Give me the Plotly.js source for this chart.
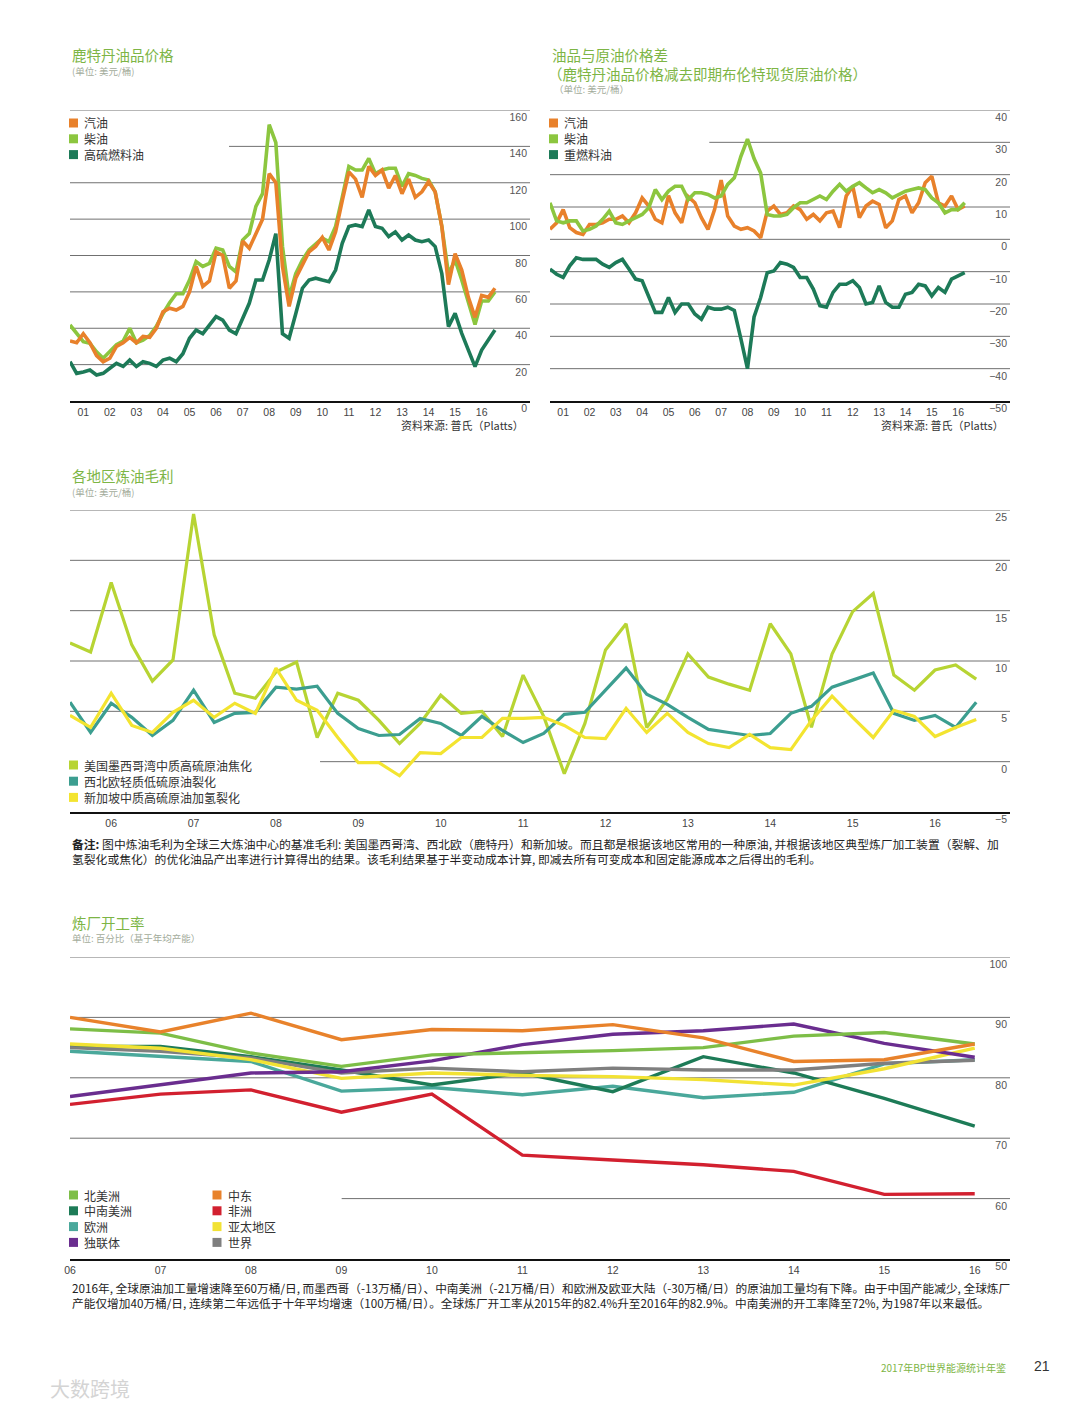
<!DOCTYPE html>
<html><head><meta charset="utf-8">
<script src="https://cdn.plot.ly/plotly-3.0.1.min.js"></script>
<style>html,body{margin:0;padding:0;background:#fff}#chart{width:1080px;height:1407px}</style>
</head><body><div id="chart"></div>
<script>
// ---------- Data ----------
// Chart A: Rotterdam product prices, quarterly from 2001
const yearLabelsA = ["01","02","03","04","05","06","07","08","09","10","11","12","13","14","15","16"];
const seriesNamesA = ["汽油","柴油","高硫燃料油"];
const gasolineA = [33,32,37,32,25,21.6,23.5,30,32,35,32,35.5,35,40,49,51,50,52,60,74,63,66,82,80,62,66,88,84,92,100,125,120,74,52,67.5,75,82,85,90,83,93,110,126,122,112,129,124,127,117,124,114,122,112,115,120.6,115,96,64,81,72,57,46,58,57,62];
const dieselA = [41.8,37,32.6,31.7,27,23.5,27,31,33,40,32,33.5,36,41,48,54,59,59,66.5,76.6,74,75.7,84,83,74,71,88.5,92,107,114,152,142,85,57,70,77.5,83,86,89.5,87.6,96,112,129,127,127,133.4,125,127,128,128,118,125,124,122.4,121.5,115,96,70,77.5,66.5,54,42,55,55,60];
const hsfoA = [21.6,15.2,16,17,14.3,15.2,18,20.7,19,22.5,19,21.6,20.7,19,22.5,23.5,21.6,26,34.5,39,37,41.8,46.4,44.5,39,37,45.5,53.7,66.5,66.5,77.5,92,37,34.5,48,62,66.5,67.5,66.5,65.6,72,86.7,95.9,96.8,95.9,105,96,95,90.4,93,88.5,91.3,88.5,87.6,88.5,84.9,70,40.9,48.2,37.2,28,18.9,28,33.5,39];
const yTicksA = [0,20,40,60,80,100,120,140,160];

// Chart B: product - Brent spreads, quarterly from 2001
const seriesNamesB = ["汽油","柴油","重燃料油"];
const gasolineB = [3.1,5.1,9.2,3.6,2.1,1.5,4.6,4.6,5.1,6.2,6.2,7.2,5.1,8.2,12.8,10.3,6.2,5.1,13.5,8.2,5.1,13.2,11.3,6.7,3.1,9.2,18.3,7.2,4.1,3.1,3.6,2.6,0.5,8.7,10.3,7.7,8.2,10.3,9.2,6.2,7.7,5.7,8.2,8.7,3.6,13.4,16.4,6.7,10.3,11.8,10.8,3.6,5.7,12.3,13.4,8.2,11.3,17.5,19.5,11.3,10.3,13.4,9.2,10.3];
const dieselB = [11.3,5.7,5.1,5.7,5.7,2.6,3.1,4.1,6.2,8.7,5.1,4.6,5.7,6.7,7.7,9.8,15.4,12.3,14.9,16.4,16.4,12.3,14.4,14.4,13.9,12.8,13.4,17,19,25.7,31,25,20.5,7.7,7.2,7.2,7.7,9.8,11.3,11.3,12.3,13.4,12.3,14.9,17,14.9,16.4,17.5,15.9,14.4,15.4,14.4,12.8,13.9,14.9,15.4,15.9,15.4,12.8,11.3,8.2,9.2,9.2,11.3];
const hsfoB = [-9.2,-10.8,-11.8,-8.2,-5.7,-6.2,-6.2,-6.2,-7.7,-8.7,-7.2,-6.2,-9.2,-12.3,-12.8,-18,-22.6,-22.6,-18,-22.6,-20,-20,-23.1,-24.7,-21,-21.6,-21.6,-21,-22,-30.8,-40,-24,-18,-10.3,-9.8,-7.2,-7.7,-8.7,-11.8,-11.8,-15.4,-20.5,-21,-16.4,-13.9,-13.9,-12.8,-14.9,-20,-19.5,-14.4,-19.5,-21,-21,-17,-16.4,-13.9,-14.4,-17.5,-14.9,-16.4,-12.3,-11.3,-10.3];
const yTicksB = [-50,-40,-30,-20,-10,0,10,20,30,40];

// Chart C: regional refining margins, quarterly from 2006
const yearLabelsC = ["06","07","08","09","10","11","12","13","14","15","16"];
const seriesNamesC = ["美国墨西哥湾中质高硫原油焦化","西北欧轻质低硫原油裂化","新加坡中质高硫原油加氢裂化"];
const usGulfC = [11.8,10.9,17.8,11.6,8.0,10.1,24.6,12.6,6.8,6.3,8.9,9.9,2.4,6.8,6.1,4.1,1.8,3.8,6.6,4.8,5.0,2.5,8.6,4.5,-1.2,3.8,11.1,13.7,3.4,6.2,10.7,8.4,7.7,7.1,13.7,10.7,3.4,10.7,14.9,16.7,8.6,7.1,9.1,9.6,8.2];
const nwEuropeC = [5.9,2.9,5.8,4.4,2.6,4.1,7.1,3.9,4.8,4.9,7.4,7.2,7.5,4.8,3.3,2.6,2.7,4.3,3.8,2.6,4.5,3.1,1.9,2.8,4.7,4.9,7.1,9.3,6.7,5.7,4.4,3.2,2.9,2.6,2.8,4.8,5.5,7.4,8.1,8.8,4.8,4.1,4.6,3.4,5.9];
const singaporeC = [4.6,3.4,6.8,3.6,2.9,4.9,6.1,4.4,5.8,4.8,9.3,6.1,5.1,2.4,-0.1,-0.1,-1.4,0.9,0.8,2.4,2.4,4.3,4.3,4.4,3.6,2.4,2.3,5.3,2.9,4.8,2.9,1.8,1.4,2.7,1.4,1.2,4.1,6.5,4.4,2.4,5.1,4.5,2.5,3.4,4.2];
const yTicksC = [-5,0,5,10,15,20,25];

// Chart D: refinery utilization, annual 2006-2016
const yearsD = [2006,2007,2008,2009,2010,2011,2012,2013,2014,2015,2016];
const yearLabelsD = ["06","07","08","09","10","11","12","13","14","15","16"];
const seriesNamesD = ["北美洲","中南美洲","欧洲","独联体","中东","非洲","亚太地区","世界"];
const northAmerica = [88.1,87.4,84.1,81.9,83.8,84.1,84.5,85.0,86.9,87.5,85.6];
const scAmerica = [85.2,85.2,83.5,81.3,78.8,80.8,77.7,83.5,80.8,76.6,72.0];
const europe = [84.4,83.5,82.7,77.8,78.4,77.2,78.6,76.7,77.6,82.3,83.0];
const cis = [76.9,78.8,80.8,81.0,82.8,85.5,87.2,87.8,88.9,85.7,83.4];
const middleEast = [90.0,87.6,90.7,86.3,88.0,87.8,88.8,86.6,82.7,83.0,85.6];
const africa = [75.6,77.3,78.0,74.3,77.3,67.2,66.4,65.6,64.5,60.7,60.8];
const asiaPacific = [85.6,84.9,83.0,79.9,80.8,80.4,80.2,79.7,78.8,81.5,84.9];
const world = [85.0,84.4,83.3,80.8,81.6,81.0,81.6,81.3,81.3,82.4,82.9];
const yTicksD = [50,60,70,80,90,100];

// ---------- Helpers ----------
const W = 1080, H = 1407;
const PX = x => x / W;
const PY = y => 1 - y / H;
const quarters = (startYear, n) => Array.from({length: n}, (_, i) => startYear + i * 0.25);
const FONT = "Liberation Sans, Arial, Noto Sans CJK SC, sans-serif";
const CJK = "Noto Sans CJK SC, sans-serif";

const C = {
  orange: "#E8812B", diesel: "#8CC63F", hsfo: "#1D7A58",
  lime: "#B7D433", teal: "#3C9E90", yellow: "#F3E430",
  na: "#7DBE47", me: "#E8822B", sca: "#1D7B57", eu: "#4AA89B",
  cis: "#6A2D8F", af: "#D2202F", ap: "#F2E234", world: "#7F7F7F",
  title: "#7DB545", sub: "#A3AC9B", grid: "#707070"
};

const xA = quarters(2001, gasolineA.length);
const xB = quarters(2001, gasolineB.length);
const xC = quarters(2006, usGulfC.length);
const tickYearsA = yearLabelsA.map((_, i) => 2001.5 + i);
const tickYearsC = yearLabelsC.map((_, i) => 2006.5 + i);

const traces = [];
function line(x, y, color, w, xa, ya, name) {
  traces.push({type: "scatter", mode: "lines", x, y, xaxis: xa, yaxis: ya, name,
    line: {color, width: w, shape: "linear"}, showlegend: false, hoverinfo: "skip"});
}

// Chart A
line(xA, hsfoA, C.hsfo, 3.6, "x", "y", seriesNamesA[2]);
line(xA, dieselA, C.diesel, 3.6, "x", "y", seriesNamesA[1]);
line(xA, gasolineA, C.orange, 3.6, "x", "y", seriesNamesA[0]);
// Chart B
line(xB, hsfoB, C.hsfo, 3.6, "x2", "y2", seriesNamesB[2]);
line(xB, gasolineB, C.orange, 3.6, "x2", "y2", seriesNamesB[0]);
line(xB, dieselB, C.diesel, 3.6, "x2", "y2", seriesNamesB[1]);
// Chart C
line(xC, usGulfC, C.lime, 3.2, "x3", "y3", seriesNamesC[0]);
line(xC, nwEuropeC, C.teal, 3.2, "x3", "y3", seriesNamesC[1]);
line(xC, singaporeC, C.yellow, 3.2, "x3", "y3", seriesNamesC[2]);
// Chart D
line(yearsD, africa, C.af, 3.4, "x4", "y4", seriesNamesD[5]);
line(yearsD, europe, C.eu, 3.4, "x4", "y4", seriesNamesD[2]);
line(yearsD, scAmerica, C.sca, 3.4, "x4", "y4", seriesNamesD[1]);
line(yearsD, world, C.world, 3.4, "x4", "y4", seriesNamesD[7]);
line(yearsD, asiaPacific, C.ap, 3.4, "x4", "y4", seriesNamesD[6]);
line(yearsD, cis, C.cis, 3.4, "x4", "y4", seriesNamesD[3]);
line(yearsD, northAmerica, C.na, 3.4, "x4", "y4", seriesNamesD[0]);
line(yearsD, middleEast, C.me, 3.4, "x4", "y4", seriesNamesD[4]);

// ---------- Axes ----------
function xAxis(domain, range, tickvals, ticktext, anchor) {
  return {domain, range, anchor, tickvals, ticktext, showgrid: false, zeroline: false,
    showline: true, linecolor: "#111", linewidth: 2.2, ticks: "", ticklen: 0,
    tickfont: {family: FONT, size: 10.5, color: "#444"}, fixedrange: true};
}
function yAxis(domain, range, tickvals, anchor) {
  return {domain, range, anchor, side: "right", tickvals, showgrid: false, zeroline: false,
    showline: false, ticks: "", ticklabelposition: "inside bottom", ticklabeloverflow: "allow",
    tickfont: {family: FONT, size: 10.5, color: "#555"}, fixedrange: true};
}

// gridlines from tick values (bottom tick = axis line)
const shapes = [];
function grid(ticks, xa, ya, partialValue, partialStart) {
  ticks.slice(1).forEach(v => {
    shapes.push({type: "line", xref: xa + " domain", yref: ya, x0: v === partialValue ? partialStart : 0, x1: 1,
      y0: v, y1: v, line: {color: C.grid, width: 1}, layer: "below"});
  });
}
grid(yTicksA, "x", "y", 140, 0.3457);
grid(yTicksB, "x2", "y2", 30, 0.3463);
grid(yTicksC, "x3", "y3", 0, 0.266);
grid(yTicksD, "x4", "y4", 60, 0.289);

// ---------- Text ----------
const ann = [];
function text(t, x, y, size, color, anchor, family, extra) {
  ann.push(Object.assign({text: t, xref: "paper", yref: "paper", x: PX(x), y: PY(y), xanchor: anchor || "left",
    yanchor: "middle", showarrow: false, align: "left", font: {family: family || CJK, size, color}}, extra || {}));
}
// legend key: colour square + label, laid out in a column
function legendColumn(names, colors, x, y0, step) {
  names.forEach((n, i) => {
    const y = y0 + i * step;
    shapes.push({type: "rect", xref: "paper", yref: "paper", x0: PX(x), x1: PX(x + 9),
      y0: PY(y + 4.5), y1: PY(y - 4.5), fillcolor: colors[i], line: {width: 0}});
    text(n, x + 13, y, 12, "#333");
  });
}
legendColumn(seriesNamesA, [C.orange, C.diesel, C.hsfo], 69, 123, 15.8);
legendColumn(seriesNamesB, [C.orange, C.diesel, C.hsfo], 549, 123, 15.8);
legendColumn(seriesNamesC, [C.lime, C.teal, C.yellow], 69, 765, 16.2);
legendColumn(seriesNamesD.slice(0, 4), [C.na, C.sca, C.eu, C.cis], 69, 1195, 15.8);
legendColumn(seriesNamesD.slice(4), [C.me, C.af, C.ap, C.world], 212.5, 1195, 15.8);

text("鹿特丹油品价格", 70, 55, 14.5, C.title);
text("(单位: 美元/桶)", 70, 71, 9.5, C.sub);
text("油品与原油价格差", 550, 55, 14.5, C.title);
text("（鹿特丹油品价格减去即期布伦特现货原油价格）", 546, 73, 14.5, C.title);
text("（单位: 美元/桶）", 552, 89, 9.5, C.sub);
text("资料来源: 普氏（Platts）", 526, 425, 11, "#333", "right");
text("资料来源: 普氏（Platts）", 1006, 425, 11, "#333", "right");
text("各地区炼油毛利", 70, 475, 14.5, C.title);
text("(单位: 美元/桶)", 70, 492, 9.5, C.sub);
text("<b>备注:</b> 图中炼油毛利为全球三大炼油中心的基准毛利: 美国墨西哥湾、西北欧（鹿特丹）和新加坡。而且都是根据该地区常用的一种原油, 并根据该地区典型炼厂加工装置（裂解、加<br>氢裂化或焦化）的优化油品产出率进行计算得出的结果。该毛利结果基于半变动成本计算, 即减去所有可变成本和固定能源成本之后得出的毛利。", 70, 850.5, 11.8, "#222");
text("炼厂开工率", 70, 922, 14.5, C.title);
text("单位: 百分比（基于年均产能）", 70, 938, 9.5, C.sub);
text("2016年, 全球原油加工量增速降至60万桶/日, 而墨西哥（-13万桶/日）、中南美洲（-21万桶/日）和欧洲及欧亚大陆（-30万桶/日）的原油加工量均有下降。由于中国产能减少, 全球炼厂<br>产能仅增加40万桶/日, 连续第二年远低于十年平均增速（100万桶/日）。全球炼厂开工率从2015年的82.4%升至2016年的82.9%。中南美洲的开工率降至72%, 为1987年以来最低。", 70, 1295, 11.7, "#222");
text("2017年BP世界能源统计年鉴", 1008, 1367, 10, C.title, "right");
text("21", 1032, 1366, 14, "#333", "left", FONT);
text("大数跨境", 48, 1388, 20, "#d4d4d4", "left");

const layout = {
  width: W, height: H, margin: {l: 0, r: 0, t: 0, b: 0},
  paper_bgcolor: "#fff", plot_bgcolor: "rgba(0,0,0,0)", showlegend: false,
  xaxis: xAxis([PX(70), PX(530)], [2001, 2018.32], tickYearsA, yearLabelsA, "y"),
  yaxis: yAxis([PY(401), PY(110)], [0, 160], yTicksA, "x"),
  xaxis2: xAxis([PX(550), PX(1010)], [2001, 2018.47], tickYearsA, yearLabelsA, "y2"),
  yaxis2: yAxis([PY(401), PY(110)], [-50, 40], yTicksB, "x2"),
  xaxis3: xAxis([PX(70), PX(1010)], [2006, 2017.41], tickYearsC, yearLabelsC, "y3"),
  yaxis3: yAxis([PY(812), PY(510)], [-5, 25], yTicksC, "x3"),
  xaxis4: xAxis([PX(70), PX(1010)], [2006, 2016.39], yearsD, yearLabelsD, "y4"),
  yaxis4: yAxis([PY(1259), PY(957)], [50, 100], yTicksD, "x4"),
  shapes, annotations: ann
};

Plotly.newPlot("chart", traces, layout, {staticPlot: true, displayModeBar: false});
</script>
</body></html>
